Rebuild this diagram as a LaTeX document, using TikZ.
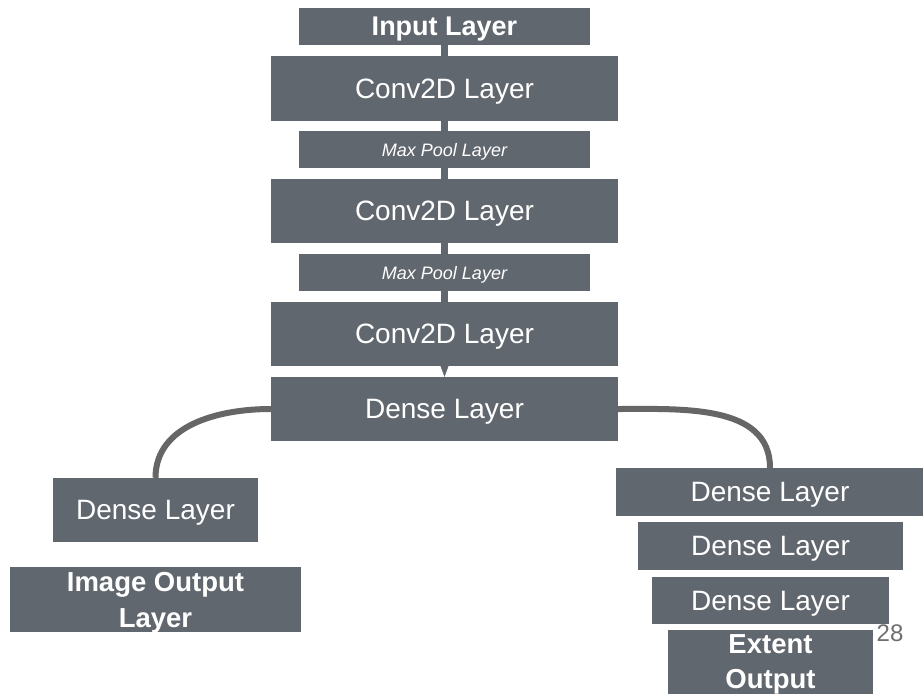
\documentclass[tikz,border=0pt]{standalone}
\usepackage{fontspec}
\setmainfont{Liberation Sans}
\usetikzlibrary{arrows.meta}
\definecolor{boxc}{RGB}{97,103,111}
\definecolor{linec}{RGB}{102,102,102}
\definecolor{numc}{RGB}{110,110,110}
\begin{document}
\begin{tikzpicture}[x=1pt,y=-1pt,
  box/.style={rectangle, fill=boxc, text=white, inner sep=0pt, align=center, text depth=0pt},
  bigtxt/.style={font=\fontsize{28}{34}\selectfont},
  boldtxt/.style={font=\fontsize{27.5}{36}\selectfont\bfseries},
  smalltxt/.style={font=\fontsize{18}{20}\selectfont\itshape},
  vlink/.style={draw=boxc, line width=7pt},
  curvelink/.style={draw=linec, line width=6pt}]
\useasboundingbox (0,0) rectangle (923,693);
\clip (0,0) rectangle (923,693);
% main column
\node[box, boldtxt, font=\fontsize{27}{34}\selectfont\bfseries, minimum width=291pt, minimum height=37pt] (inp) at (444.5,26.5) {Input Layer};
\node[box, bigtxt, minimum width=347pt, minimum height=64pt] (c1) at (444.5,88.5) {Conv2D Layer};
\node[box, smalltxt, minimum width=291pt, minimum height=37pt] (mp1) at (444.5,149.5) {Max Pool Layer};
\node[box, bigtxt, minimum width=347pt, minimum height=64pt] (c2) at (444.5,211) {Conv2D Layer};
\node[box, smalltxt, minimum width=291pt, minimum height=37pt] (mp2) at (444.5,272.5) {Max Pool Layer};
\node[box, bigtxt, minimum width=347pt, minimum height=64pt] (c3) at (444.5,334) {Conv2D Layer};
\node[box, bigtxt, minimum width=347pt, minimum height=64pt] (dense) at (444.5,409) {Dense Layer};
% left branch
\node[box, bigtxt, minimum width=205pt, minimum height=64pt] (ld) at (155.5,510) {Dense Layer};
\node[box, boldtxt, minimum width=291pt, minimum height=65pt] (img) at (155.5,599.5) {Image Output\\Layer};
% right branch
\node[box, bigtxt, minimum width=308pt, minimum height=48pt] (rd1) at (770,492) {Dense Layer};
\node[box, bigtxt, minimum width=265pt, minimum height=48pt] (rd2) at (770.5,546) {Dense Layer};
\node[box, bigtxt, minimum width=237pt, minimum height=47pt] (rd3) at (770.5,600.5) {Dense Layer};
\node[box, font=\fontsize{27.5}{35}\selectfont\bfseries, text height=46pt, minimum width=205pt, minimum height=70pt] (ext) at (770.5,665) {Extent\\Output};
% page number
\node[text=numc, font=\fontsize{24}{26}\selectfont, inner sep=0pt, text depth=0pt] (num) at (890,633.5) {28};
% connectors
\draw[vlink] (inp.south) -- (c1.north);
\draw[vlink] (c1.south) -- (mp1.north);
\draw[vlink] (mp1.south) -- (c2.north);
\draw[vlink] (c2.south) -- (mp2.north);
\draw[vlink] (mp2.south) -- (c3.north);
\draw[draw=boxc, fill=boxc, line width=0.5pt, -{Triangle[length=11pt,width=8pt]}] (c3.south) -- (dense.north);
\draw[curvelink] (dense.west) to[out=180,in=90] (ld.north);
\draw[curvelink] (dense.east) to[out=0,in=90] (rd1.north);
\end{tikzpicture}
\end{document}
